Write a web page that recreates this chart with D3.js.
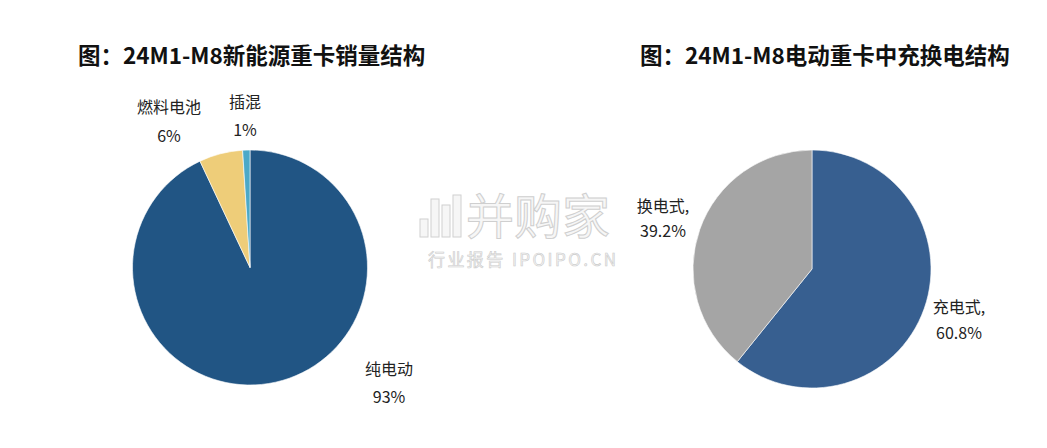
<!DOCTYPE html>
<html><head><meta charset="utf-8">
<script src="https://cdn.jsdelivr.net/npm/d3@7/dist/d3.min.js"></script>
<style>body{margin:0;background:#fff;}svg{display:block;font-family:"Noto Sans CJK SC","Noto Sans",sans-serif;}</style>
</head><body>
<svg id="c" width="1047" height="448"></svg>
<script>
const leftTitle = "图：24M1-M8新能源重卡销量结构";
const rightTitle = "图：24M1-M8电动重卡中充换电结构";
const leftCategories = ["纯电动", "燃料电池", "插混"];
const leftValues = [93, 6, 1];
const leftLabels = ["93%", "6%", "1%"];
const rightCategories = ["充电式", "换电式"];
const rightValues = [60.8, 39.2];
const rightLabels = ["60.8%", "39.2%"];

const svg = d3.select("#c");
const leftColors = d3.scaleOrdinal().domain(leftCategories).range(["#215584", "#EECD79", "#4BA9C8"]);
const rightColors = d3.scaleOrdinal().domain(rightCategories).range(["#375F90", "#A5A5A5"]);

// watermark
const wm = svg.append("g");
wm.append("text").attr("x", 466).attr("y", 234).attr("font-size", 48).attr("fill", "#f6f6f6")
  .attr("stroke", "#cfcfcf").attr("stroke-width", 1).text("并购家");
wm.append("text").attr("x", 428).attr("y", 266).attr("font-size", 17).attr("fill", "#f4f4f4")
  .attr("stroke", "#cccccc").attr("stroke-width", 0.6).attr("textLength", 188).text("行业报告 IPOIPO.CN");
[0,1,2,3].forEach(i => {
  const h = [18, 38, 32, 42][i];
  wm.append("rect").attr("x", 420 + i*11).attr("y", 237 - h).attr("width", 8)
    .attr("height", h).attr("fill", "#f6f6f6").attr("stroke", "#d0d0d0");
});

function drawPie(cx, cy, r, cats, vals, colors) {
  const pie = d3.pie().sort(null).value(d => d.v);
  const arc = d3.arc().innerRadius(0).outerRadius(r);
  const data = pie(cats.map((c, i) => ({c, v: vals[i]})));
  svg.append("g").attr("transform", `translate(${cx},${cy})`)
    .selectAll("path").data(data).join("path")
    .attr("d", arc).attr("fill", d => colors(d.data.c))
    .attr("stroke", "#fff").attr("stroke-width", 0.6);
}
drawPie(250, 267.5, 117.5, leftCategories, leftValues, leftColors);
drawPie(812, 269, 119, rightCategories, rightValues, rightColors);

// titles
svg.append("text").attr("x", 78).attr("y", 64).attr("font-size", 22.5).attr("font-weight", "bold").attr("fill", "#111").text(leftTitle);
svg.append("text").attr("x", 640).attr("y", 64).attr("font-size", 22.5).attr("font-weight", "bold").attr("fill", "#111").text(rightTitle);

// labels
const lab = (x, y, t, anchor) => svg.append("text").attr("x", x).attr("y", y).attr("font-size", 16)
  .attr("fill", "#222").attr("text-anchor", anchor || "middle").text(t);
const leftPos = [[389, 375, 403], [169, 113, 142], [245, 108, 136]];
leftCategories.forEach((c, i) => { lab(leftPos[i][0], leftPos[i][1], c); lab(leftPos[i][0], leftPos[i][2], leftLabels[i]); });
const rightPos = [[959, 313, 339], [663, 212, 237]];
rightCategories.forEach((c, i) => { lab(rightPos[i][0], rightPos[i][1], c + ","); lab(rightPos[i][0], rightPos[i][2], rightLabels[i]); });
</script>
</body></html>
